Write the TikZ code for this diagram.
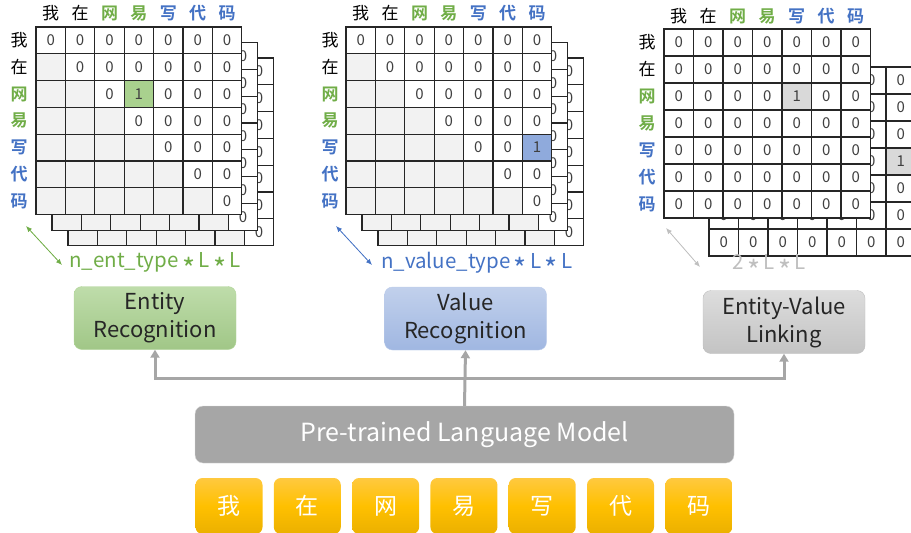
\documentclass[tikz,border=0pt]{standalone}
\usepackage{fontspec}
\setmainfont{Noto Sans CJK SC}[BoldFont={Noto Sans CJK SC Bold}]
\usetikzlibrary{arrows.meta,positioning}

\definecolor{wordgreen}{HTML}{70AD47}
\definecolor{wordblue}{HTML}{4472C4}
\definecolor{dimgray}{HTML}{BFBFBF}
\definecolor{lowgray}{HTML}{F2F2F2}
\definecolor{hitgreen}{HTML}{A9D18E}
\definecolor{hitblue}{HTML}{8FAADC}
\definecolor{hitgray}{HTML}{D9D9D9}
\definecolor{linkgray}{HTML}{A6A6A6}
\definecolor{toktop}{HTML}{FFC93F}
\definecolor{tokmid}{HTML}{FFC000}
\definecolor{tokbot}{HTML}{EBB000}

\newcommand{\by}{\,\raisebox{-1ex}{\fontsize{28}{28}\selectfont *}\,}

\begin{document}
\begin{tikzpicture}[x=1pt,y=-1pt,
  cell/.style={minimum width=29.4pt,minimum height=26.8pt,inner sep=0pt,outer sep=0pt,
    anchor=north west,fill=white,text=black!75,font=\fontsize{15}{15}\selectfont},
  wide cell/.style={cell,minimum width=29.5pt,minimum height=27pt},
  low/.style={cell,fill=lowgray},
  rule/.style={draw=black!85,line width=1.2pt,line cap=rect},
  head/.style={inner sep=0pt,font=\fontsize{17}{17}\fontseries{#1}\selectfont},
  dim/.style={anchor=west,inner sep=0pt,font=\fontsize{20.5}{20.5}\selectfont},
  dimarrow/.style={line width=0.8pt,{Latex[length=6pt,width=5pt]}-{Latex[length=6pt,width=5pt]}},
  task/.style={rounded corners=8pt,minimum width=162pt,minimum height=63pt,
    align=center,text=black!85,font=\fontsize{22}{28}\selectfont},
  tok/.style={rounded corners=7pt,minimum width=67pt,minimum height=56pt,text=white,
    top color=toktop,bottom color=tokbot,middle color=tokmid,font=\fontsize{23}{23}\selectfont},
  link/.style={draw=linkgray,line width=3pt,-{Triangle[length=8pt,width=9pt]}}]

\clip (0,0) rectangle (911,533);

% entity tables, back layers first
\foreach \l in {2,1,0}{
  \foreach \r in {0,...,6}
    \foreach \c in {0,...,6}{
      \ifnum\c<\r
        \node[low] (ent\l-\r-\c) at (36+\l*16+\c*29.4,27+\l*15.5+\r*26.8) {};
      \else
        \node[cell] (ent\l-\r-\c) at (36+\l*16+\c*29.4,27+\l*15.5+\r*26.8) {0};
      \fi}
  \ifnum\l=0 \node[cell,anchor=center,fill=hitgreen] (enthit) at (ent0-2-3) {1}; \fi
  \foreach \i in {0,...,7}{
    \draw[rule] (36+\l*16+\i*29.4,27+\l*15.5) -- ++(0,7*26.8);
    \draw[rule] (36+\l*16,27+\l*15.5+\i*26.8) -- ++(7*29.4,0);}
}

% value tables
\foreach \l in {2,1,0}{
  \foreach \r in {0,...,6}
    \foreach \c in {0,...,6}{
      \ifnum\c<\r
        \node[low] (val\l-\r-\c) at (346+\l*16+\c*29.4,27+\l*15.5+\r*26.8) {};
      \else
        \node[cell] (val\l-\r-\c) at (346+\l*16+\c*29.4,27+\l*15.5+\r*26.8) {0};
      \fi}
  \ifnum\l=0 \node[cell,anchor=center,fill=hitblue] (valhit) at (val0-4-6) {1}; \fi
  \foreach \i in {0,...,7}{
    \draw[rule] (346+\l*16+\i*29.4,27+\l*15.5) -- ++(0,7*26.8);
    \draw[rule] (346+\l*16,27+\l*15.5+\i*26.8) -- ++(7*29.4,0);}
}

% linking tables
\foreach \l/\x/\y/\hr/\hc in {1/709/67/3/6,0/664/29/2/4}{
  \foreach \r in {0,...,6}
    \foreach \c in {0,...,6}
      \node[wide cell] (lnk\l-\r-\c) at (\x+\c*29.5,\y+\r*27) {0};
  \node[wide cell,anchor=center,fill=hitgray] (lnkhit\l) at (lnk\l-\hr-\hc) {1};
  \foreach \i in {0,...,7}{
    \draw[rule] (\x+\i*29.5,\y) -- ++(0,7*27);
    \draw[rule] (\x,\y+\i*27) -- ++(7*29.5,0);}
}

% characters along the tables
\foreach \ch/\col/\w [count=\i from 0] in {我/black/m,在/black/m,网/wordgreen/bx,易/wordgreen/bx,
    写/wordblue/bx,代/wordblue/bx,码/wordblue/bx}{
  \node[head=\w,text=\col] (enttop\i) at (50.7+\i*29.4,13) {\ch};
  \node[head=\w,text=\col] (entside\i) at (19,40.4+\i*26.8) {\ch};
  \node[head=\w,text=\col] (valtop\i) at (360.7+\i*29.4,13) {\ch};
  \node[head=\w,text=\col] (valside\i) at (330,40.4+\i*26.8) {\ch};
  \node[head=\w,text=\col] (lnktop\i) at (678.7+\i*29.5,16) {\ch};
  \node[head=\w,text=\col] (lnkside\i) at (647,42.5+\i*27) {\ch};
}

% table sizes
\coordinate (entA) at (26,226);
\coordinate (entB) at (62,265);
\draw[dimarrow,draw=wordgreen,fill=wordgreen] (entA) -- (entB);
\node[dim,text=wordgreen] (entdim) at (69,266) {n\_ent\_type\by L\by L};
\coordinate (valA) at (336,226);
\coordinate (valB) at (372,265);
\draw[dimarrow,draw=wordblue,fill=wordblue] (valA) -- (valB);
\node[dim,text=wordblue] (valdim) at (381,266) {n\_value\_type\by L\by L};
\coordinate (lnkA) at (666,228);
\coordinate (lnkB) at (700,267);
\draw[dimarrow,draw=dimgray,fill=dimgray] (lnkA) -- (lnkB);
\node[dim,text=dimgray] (lnkdim) at (732,268) {2\by L\by L};

% task heads
\node[task,draw=hitgreen!90!white,top color=hitgreen!75!white,bottom color=hitgreen!95!black] (entrec) at (155,318) {Entity\\Recognition};
\node[task,draw=hitblue!60!white,top color=hitblue!55!white,bottom color=hitblue!85!white] (valrec) at (465.5,318.5) {Value\\Recognition};
\node[task,draw=dimgray,top color=hitgray!90!white,bottom color=hitgray!90!black] (lnkrec) at (784,322) {Entity-Value\\Linking};

% encoder and input
\node[draw=white!85!black,fill=linkgray,rounded corners=8pt,minimum width=539pt,minimum height=57pt,
  text=white,font=\fontsize{25}{25}\selectfont] (plm) at (464.5,434.5) {Pre-trained Language Model};
\foreach \ch [count=\i from 0] in {我,在,网,易,写,代,码}
  \node[tok] (tok\i) at (229+\i*78.3,506) {\ch};

\coordinate (fork) at (465,378);
\draw[link] (plm.north) -- (valrec.south);
\draw[link] (fork) -| (entrec.south);
\draw[link] (fork) -| (lnkrec.south);
\end{tikzpicture}
\end{document}
